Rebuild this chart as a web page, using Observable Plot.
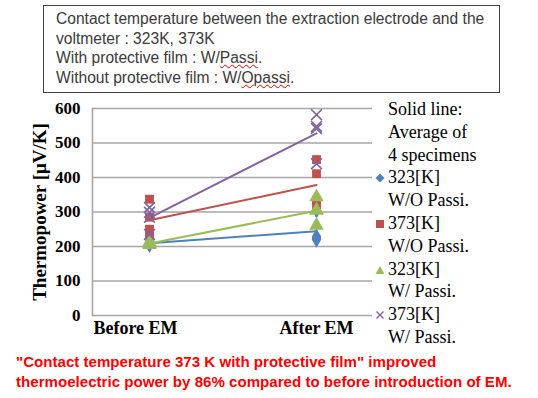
<!DOCTYPE html>
<html>
<head>
<meta charset="utf-8">
<script src="https://cdn.jsdelivr.net/npm/d3@7"></script>
<script src="https://cdn.jsdelivr.net/npm/@observablehq/plot@0.6"></script>
<style>
  html, body { margin:0; padding:0; background:#fff; }
  #wrap { position:relative; width:538px; height:398px; overflow:hidden; }
  #box { position:absolute; left:43px; top:5px; width:457px; height:88px; border:1.5px solid #404040; box-sizing:border-box;
         font-family:"Liberation Sans", Arial, sans-serif; font-size:15.6px; line-height:19.5px; color:#3a3a3a; padding:3px 0 0 12px; }
  .sq { text-decoration: underline wavy #e00000; text-decoration-thickness:1px; text-underline-offset:1px; }
  #chart { position:absolute; left:0; top:0; }
  #ylab { position:absolute; left:40px; top:212px; transform:translate(-50%,-50%) rotate(-90deg); white-space:nowrap;
          font-family:"Liberation Serif", serif; font-weight:bold; font-size:19px; color:#000; }
  #legend { position:absolute; left:374px; top:98px; font-family:"Liberation Serif", serif; font-size:18px; line-height:22.8px; color:#000; }
  #legend .row { white-space:nowrap; }
  #legend .ind { padding-left:14px; }
  #legend svg { display:inline-block; width:12px; height:12px; vertical-align:-1px; margin-right:2px; }
  #cap { position:absolute; left:16px; top:352px; font-family:"Liberation Sans", Arial, sans-serif; font-weight:bold; font-size:15.1px; line-height:20px; color:#ff0000; white-space:nowrap; }
</style>
</head>
<body>
<div id="wrap">
  <div id="box">Contact temperature between the extraction electrode and the<br>voltmeter : 323K, 373K<br>With protective film : W/<span class="sq">Passi</span>.<br>Without protective film : W/<span class="sq">Opassi</span>.</div>
  <div id="chart"></div>
  <div id="ylab">Thermopower [μV/K]</div>
  <div id="legend"></div>
  <div id="cap">"Contact temperature 373 K with protective film" improved<br>thermoelectric power by 86% compared to before introduction of EM.</div>
</div>
<script>
// ---- data ----
const categories = ["Before EM", "After EM"];
const yTicks = [0, 100, 200, 300, 400, 500, 600];
const seriesNames = ["323[K] W/O Passi.", "373[K] W/O Passi.", "323[K] W/ Passi.", "373[K] W/ Passi."];
const seriesColors = ["#4f81bd", "#c0504d", "#9bbb59", "#8064a2"];
// four specimens per series
const before323WO = [212, 208, 205, 214];
const after323WO  = [305, 228, 220, 224];
const before373WO = [337, 285, 250, 232];
const after373WO  = [452, 411, 334, 316];
const before323W  = [205, 210, 208, 212];
const after323W   = [343, 305, 305, 261];
const before373W  = [313, 299, 285, 235];
const after373W   = [582, 548, 542, 440];

const seriesData = [
  [before323WO, after323WO],
  [before373WO, after373WO],
  [before323W, after323W],
  [before373W, after373W]
];
const rows = [];
seriesData.forEach((pair, si) => {
  pair.forEach((vals, ci) => {
    vals.forEach(v => rows.push({series: seriesNames[si], phase: categories[ci], value: v}));
  });
});
const bySeries = s => rows.filter(d => d.series === s);

const chart = Plot.plot({
  width: 538, height: 398,
  marginLeft: 92, marginRight: 166, marginTop: 108, marginBottom: 83,
  x: {type: "point", domain: categories, padding: 0.338, label: null},
  y: {domain: [0, 600], label: null},
  color: {domain: seriesNames, range: seriesColors},
  style: {background: "transparent", fontFamily: "Liberation Serif, serif", fontWeight: "bold", fontSize: "17px", color: "#000", overflow: "visible"},
  marks: [
    Plot.gridY(yTicks, {stroke: "#a6a6a6", strokeOpacity: 1, strokeWidth: 1.6}),
    Plot.frame({anchor: "left", stroke: "#a6a6a6", strokeWidth: 1.6}),
    Plot.axisY(yTicks, {tickSize: 0, tickPadding: 12, fontSize: 17, label: null}),
    Plot.axisX(["Before EM"], {tickSize: 0, tickPadding: 6, dx: -14, fontSize: 18, label: null}),
    Plot.axisX(["After EM"], {tickSize: 0, tickPadding: 6, fontSize: 18, label: null}),
    Plot.lineY(rows, Plot.groupX({y: "mean"}, {x: "phase", y: "value", z: "series", stroke: "series", strokeWidth: 2})),
    Plot.dot(bySeries(seriesNames[0]), {x: "phase", y: "value", symbol: "diamond", r: 5, fill: seriesColors[0], stroke: "none"}),
    Plot.dot(bySeries(seriesNames[1]), {x: "phase", y: "value", symbol: "square", r: 5, fill: seriesColors[1], stroke: "none"}),
    Plot.dot(bySeries(seriesNames[2]), {x: "phase", y: "value", symbol: "triangle", r: 5.4, fill: seriesColors[2], stroke: "none"}),
    Plot.dot(bySeries(seriesNames[3]), {x: "phase", y: "value", symbol: "times", r: 5, fill: "none", stroke: seriesColors[3], strokeWidth: 1.6})
  ]
});
document.getElementById("chart").appendChild(chart);

// ---- legend ----
const legendHead = ["Solid line:", "Average of", "4 specimens"];
const legendTemp = ["323[K]", "373[K]", "323[K]", "373[K]"];
const legendFilm = ["W/O Passi.", "W/O Passi.", "W/ Passi.", "W/ Passi."];
const symSvg = [
  c => `<svg viewBox="0 0 12 12"><path d="M6 1.5L10.5 6L6 10.5L1.5 6Z" fill="${c}"/></svg>`,
  c => `<svg viewBox="0 0 12 12"><rect x="2" y="2" width="8" height="8" fill="${c}"/></svg>`,
  c => `<svg viewBox="0 0 12 12"><path d="M6 2L10.5 10L1.5 10Z" fill="${c}"/></svg>`,
  c => `<svg viewBox="0 0 12 12"><path d="M2.5 2.5L9.5 9.5M9.5 2.5L2.5 9.5" stroke="${c}" stroke-width="1.4"/></svg>`
];
const leg = document.getElementById("legend");
let html = legendHead.map(t => `<div class="row ind">${t}</div>`).join("");
legendTemp.forEach((t, i) => {
  html += `<div class="row">${symSvg[i](seriesColors[i])}${t}</div><div class="row ind">${legendFilm[i]}</div>`;
});
leg.innerHTML = html;
</script>
</body>
</html>
